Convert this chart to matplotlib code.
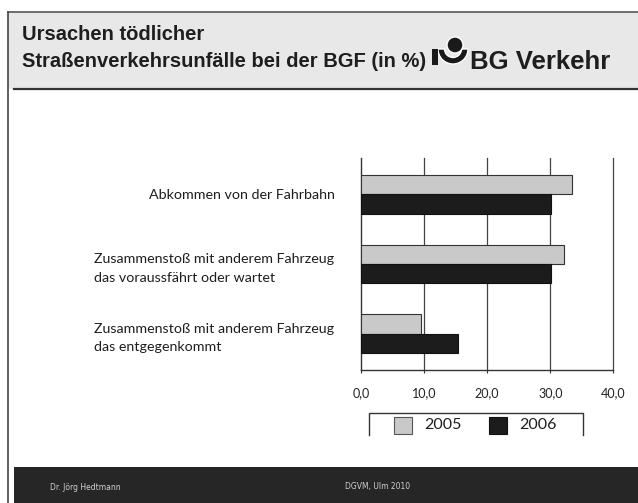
import numpy as np
import matplotlib.pyplot as plt
from matplotlib.patches import Rectangle, Circle, Wedge

# Daten: Ursachen tödlicher Straßenverkehrsunfälle (in %)
ursachen = ['Abkommen von der Fahrbahn',
            'Zusammenstoß mit anderem Fahrzeug\ndas voraussfährt oder wartet',
            'Zusammenstoß mit anderem Fahrzeug\ndas entgegenkommt']
werte_2005 = [33.5, 32.2, 9.5]
werte_2006 = [30.2, 30.2, 15.4]
jahre = ['2005', '2006']
xticks = [0, 10, 20, 30, 40]
xtick_labels = ['0,0', '10,0', '20,0', '30,0', '40,0']

farbe_2005 = '#c9c9c9'
farbe_2006 = '#1c1c1c'

W, H = 638, 503
fig = plt.figure(figsize=(W / 100, H / 100), dpi=100)
fig.patch.set_facecolor('white')

# Hintergrund-Achse in Pixelkoordinaten (y nach unten) für Rahmen, Kopf- und Fußzeile
bg = fig.add_axes([0, 0, 1, 1])
bg.set_xlim(0, W)
bg.set_ylim(H, 0)
bg.axis('off')

bg.add_patch(Rectangle((8, 12), W - 8, 77, facecolor='#e8e8e8', edgecolor='none'))
bg.plot([8, W], [12, 12], color='#555555', lw=1.2)
bg.plot([8, 8], [12, H], color='#444444', lw=1.2)
bg.plot([14, W], [89, 89], color='#333333', lw=1.6)

bg.text(22, 34, 'Ursachen tödlicher', fontsize=14.5, family='Liberation Sans',
        color='#1e1e1e', va='center', ha='left', fontweight='bold')
bg.text(22, 61, 'Straßenverkehrsunfälle bei der BGF (in %)', fontsize=14.5,
        family='Liberation Sans', color='#1e1e1e', va='center', ha='left',
        fontweight='bold')

# Logo: Kopf und Schale (Winkel 0..180 liegen wegen invertierter y-Achse unten)
bg.add_patch(Wedge((453, 49), 15, 0, 180, width=6.5, facecolor='#1a1a1a',
                   edgecolor='white', lw=1.0, zorder=5))
bg.add_patch(Rectangle((432, 49), 6, 16, facecolor='#1a1a1a', edgecolor='none',
                       zorder=5))
bg.add_patch(Circle((455, 45), 8, facecolor='#1a1a1a', edgecolor='white',
                    lw=1.0, zorder=6))
bg.text(470, 62, 'BG Verkehr', fontsize=18.5, family='Liberation Sans',
        fontweight='bold', color='#1e1e1e', va='center', ha='left')

# Fußzeile
bg.add_patch(Rectangle((14, 467), W - 14, H - 467, facecolor='#262626',
                       edgecolor='none'))
bg.text(50, 487, 'Dr. Jörg Hedtmann', fontsize=5.5, color='#d0d0d0',
        va='center', ha='left')
bg.text(345, 487, 'DGVM, Ulm 2010', fontsize=5.5, color='#d0d0d0',
        va='center', ha='left')

# Diagramm
ax = fig.add_axes([361 / W, 1 - 370 / H, 252.3 / W, 212 / H])
y = np.arange(len(ursachen))
h = 0.28
ax.barh(y - h / 2, werte_2005, height=h, color=farbe_2005, edgecolor='#333333',
        linewidth=0.8, zorder=3)
ax.barh(y + h / 2, werte_2006, height=h, color=farbe_2006, edgecolor='#111111',
        linewidth=0.8, zorder=3)

ax.set_xlim(0, 40)
ax.set_ylim(len(ursachen) - 1 + 0.525, -0.525)
ax.set_xticks(xticks)
ax.set_xticklabels(xtick_labels, family='Lato', fontsize=9, color='#222222')
ax.set_yticks(y)
ax.set_yticklabels(ursachen, family='Lato', fontsize=10.3, color='#1e1e1e',
                   multialignment='left', linespacing=1.65)
ax.tick_params(axis='y', length=0, pad=19)
ax.tick_params(axis='x', length=2.5, pad=10, color='#333333')
for xv in xticks[1:]:
    ax.axvline(xv, color='#444444', lw=0.9, zorder=1, clip_on=False)
for s in ['top', 'right']:
    ax.spines[s].set_visible(False)
for s in ['left', 'bottom']:
    ax.spines[s].set_color('#333333')
    ax.spines[s].set_linewidth(1.0)
ax.set_facecolor('none')

# Legende (Rahmen unten offen)
bg.plot([369, 369, 583, 583], [435, 413, 413, 435], color='#333333', lw=1.0)
bg.add_patch(Rectangle((394, 417), 18, 17, facecolor=farbe_2005,
                       edgecolor='#555555', lw=0.8))
bg.text(424, 425, jahre[0], family='Lato', fontsize=11.5, color='#1e1e1e',
        va='center', ha='left')
bg.add_patch(Rectangle((489, 417), 18, 17, facecolor=farbe_2006,
                       edgecolor='#111111', lw=0.8))
bg.text(519, 425, jahre[1], family='Lato', fontsize=11.5, color='#1e1e1e',
        va='center', ha='left')

fig.savefig('out.png', dpi=100)
